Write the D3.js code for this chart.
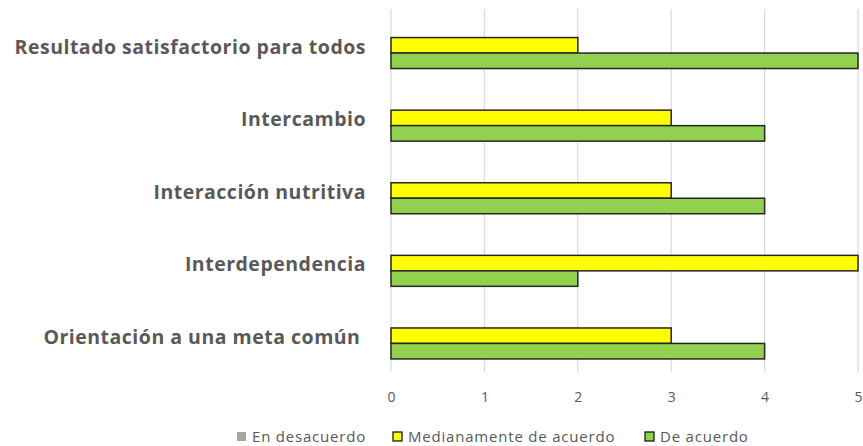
<!DOCTYPE html>
<html>
<head>
<meta charset="utf-8">
<script src="https://cdn.jsdelivr.net/npm/d3@7"></script>
<style>
  html, body { margin: 0; padding: 0; background: #fff; }
  svg { display: block; }
</style>
</head>
<body>
<svg id="chart" width="863" height="446"></svg>
<script>
// Categories, top to bottom
const categories = [
  "Resultado satisfactorio para todos",
  "Intercambio",
  "Interacción nutritiva",
  "Interdependencia",
  "Orientación a una meta común"
];
const seriesNames = ["En desacuerdo", "Medianamente de acuerdo", "De acuerdo"];
const enDesacuerdo = [0, 0, 0, 0, 0];
const medianamente = [2, 3, 3, 5, 3];
const deAcuerdo = [5, 4, 4, 2, 4];
const xTicks = [0, 1, 2, 3, 4, 5];
const colors = ["#A5A5A5", "#FFFF00", "#92D050"];

const svg = d3.select("#chart");
const plotLeft = 391, plotRight = 858, plotTop = 9, plotBottom = 372;

const x = d3.scaleLinear().domain([0, 5]).range([plotLeft, plotRight]);
const y = d3.scaleBand().domain(categories).range([plotTop, plotBottom]).paddingInner(0.36).paddingOuter(0.18);
const inner = d3.scaleBand().domain(seriesNames).range([0, y.bandwidth()]);

// Vertical gridlines
svg.append("g")
  .selectAll("line")
  .data(xTicks)
  .join("line")
  .attr("x1", d => x(d)).attr("x2", d => x(d))
  .attr("y1", plotTop).attr("y2", plotBottom)
  .attr("stroke", "#D9D9D9")
  .attr("stroke-width", 1.2);

// Bars
const seriesValues = [enDesacuerdo, medianamente, deAcuerdo];
seriesNames.forEach((name, si) => {
  svg.append("g")
    .selectAll("rect")
    .data(categories.map((c, i) => ({ c, v: seriesValues[si][i] })).filter(d => d.v > 0))
    .join("rect")
    .attr("x", x(0))
    .attr("y", d => y(d.c) + inner(name))
    .attr("width", d => x(d.v) - x(0))
    .attr("height", inner.bandwidth())
    .attr("fill", colors[si])
    .attr("stroke", si === 0 ? "none" : "#262626")
    .attr("stroke-width", 1.5);
});

// Category labels
const yAxis = d3.axisLeft(y).tickSize(0).tickPadding(25);
const yg = svg.append("g").attr("transform", `translate(${plotLeft},0)`).call(yAxis);
yg.select(".domain").remove();
yg.selectAll("text")
  .attr("dy", "0.42em")
  .style("white-space", "pre")
  .attr("font-family", "'Open Sans', sans-serif")
  .attr("font-weight", "bold")
  .attr("font-size", 19.5)
  .attr("letter-spacing", 0.5)
  .attr("fill", "#595959")
  .text(d => d === "Orientación a una meta común" ? d + " " : d);

// Value axis
const xAxis = d3.axisBottom(x).tickValues(xTicks).tickSize(0).tickPadding(20).tickFormat(d3.format("d"));
const xg = svg.append("g").attr("transform", `translate(0,${plotBottom})`).call(xAxis);
xg.select(".domain").remove();
xg.selectAll("text")
  .attr("font-family", "'Open Sans', sans-serif")
  .attr("font-size", 14)
  .attr("fill", "#595959");

// Legend
const legendItems = [
  { name: seriesNames[0], x: 237, stroke: false },
  { name: seriesNames[1], x: 393, stroke: true },
  { name: seriesNames[2], x: 645, stroke: true }
];
const lg = svg.append("g").attr("transform", "translate(0,437)");
legendItems.forEach((it, i) => {
  lg.append("rect")
    .attr("x", it.x).attr("y", -5)
    .attr("width", 9).attr("height", 9)
    .attr("fill", colors[i])
    .attr("stroke", it.stroke ? "#1a1a1a" : "none")
    .attr("stroke-width", 1.3);
  lg.append("text")
    .attr("x", it.x + 15).attr("y", 0)
    .attr("dy", "0.35em")
    .attr("font-family", "'Open Sans', sans-serif")
    .attr("font-size", 15)
    .attr("letter-spacing", 0.8)
    .attr("fill", "#595959")
    .text(it.name);
});
</script>
</body>
</html>
